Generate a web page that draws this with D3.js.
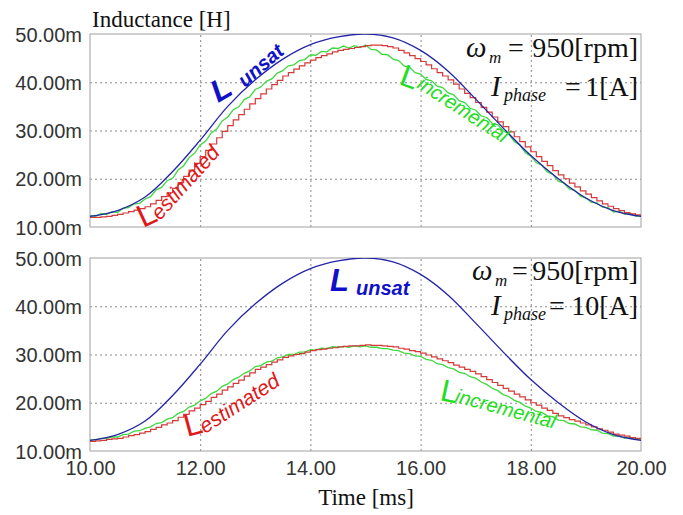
<!DOCTYPE html>
<html><head><meta charset="utf-8">
<script src="https://cdn.jsdelivr.net/npm/d3@7"></script>
<style>body{margin:0;background:#fff} svg{display:block}</style>
</head><body><div id="chart"></div>
<script>
// ---- data (inductance in mH, time in ms) ----
const timeStart = 10;
const fineStep = 0.1;     // sampling of estimated / incremental traces
const coarseStep = 0.5;   // sampling of unsaturated trace
const xTickValues = [10, 12, 14, 16, 18, 20];
const yTickValues = [10, 20, 30, 40, 50];

const lUnsat = [12.2,13.4,16.2,21.5,28.0,35.0,40.5,44.8,47.8,49.4,50.0,49.2,46.6,42.3,36.5,30.5,24.8,20.0,16.0,13.4,12.2];

const lEstTop = [12.0,12.0,12.1,12.2,12.4,12.6,
12.9,13.2,13.5,13.8,14.2, 14.8,15.5,16.3,17.1,18.0, 19.2,20.5,21.8,23.2,24.6,
25.9,27.2,28.5,29.8,31.0, 32.2,33.3,34.4,35.5,36.6, 37.6,38.6,39.5,40.4,41.3,
42.0,42.7,43.4,44.0,44.6, 45.1,45.5,45.9,46.3,46.6, 46.8,47.0,47.2,47.4,47.6,
47.7,47.7,47.6,47.4,47.1, 46.6,46.1,45.5,44.9,44.3, 43.6,42.8,42.0,41.3,40.5,
39.6,38.6,37.7,36.8,35.8, 34.8,33.8,32.8,31.8,30.8, 29.7,28.7,27.7,26.6,25.6,
24.6,23.6,22.7,21.7,20.8, 20.0,19.1,18.3,17.5,16.8, 16.1,15.4,14.8,14.3,13.8,
13.4,13.0,12.7,12.5,12.3];

const lIncTop = [12.4,12.2,12.8,12.6,13.2,13.0,
13.9,14.0,14.8,14.9,15.8, 16.3,17.7,18.2,19.6,20.1, 21.8,22.7,24.4,25.3,27.0,
27.8,29.5,30.3,32.0,32.8, 34.3,34.9,36.4,37.0,38.5, 39.0,40.2,40.7,41.9,42.4,
43.4,43.6,44.5,44.7,45.7, 45.6,46.4,46.3,47.1,47.0, 47.5,47.1,47.6,47.2,47.7,
46.8,46.7,45.8,45.7,44.8, 44.5,43.4,43.1,42.0,41.7, 40.6,40.3,39.2,38.9,37.8,
37.4,36.2,35.8,34.6,34.2, 33.0,32.7,31.5,31.2,30.0, 29.3,27.7,27.0,25.4,24.7,
23.3,22.8,21.4,20.9,19.5, 19.1,17.9,17.6,16.4,16.0, 15.1,15.0,14.1,14.0,13.1,
13.3,12.7,12.8,12.2,12.4];

const lEstBot = [12.0,12.1,12.2,12.4,12.5,12.6,
12.9,13.2,13.4,13.7,14.0, 14.5,14.9,15.4,15.8,16.3, 17.0,17.6,18.3,18.9,19.6,
20.3,21.1,21.8,22.6,23.3, 24.0,24.7,25.5,26.2,26.9, 27.4,27.9,28.4,28.9,29.4,
29.7,30.0,30.2,30.5,30.8, 31.0,31.1,31.3,31.4,31.6, 31.7,31.8,31.8,31.9,32.0,
31.9,31.9,31.8,31.7,31.6, 31.3,31.1,30.8,30.6,30.3, 29.9,29.5,29.1,28.7,28.3,
27.8,27.4,26.9,26.5,26.0, 25.4,24.8,24.2,23.6,23.0, 22.4,21.8,21.2,20.6,20.0,
19.5,18.9,18.4,17.8,17.3, 16.9,16.5,16.2,15.8,15.4, 15.0,14.6,14.3,13.9,13.5,
13.3,13.1,12.8,12.6,12.4];

const lIncBot = [12.3,12.3,12.6,12.6,12.9,12.9,
13.4,13.5,14.1,14.2,14.7, 15.0,15.7,15.9,16.6,16.9, 17.8,18.2,19.1,19.5,20.4,
20.9,21.9,22.4,23.4,23.9, 24.8,25.3,26.1,26.6,27.5, 27.7,28.4,28.6,29.3,29.5,
30.0,30.0,30.5,30.5,31.0, 30.9,31.3,31.2,31.6,31.5, 31.7,31.5,31.8,31.6,31.8,
31.5,31.5,31.2,31.2,30.9, 30.8,30.3,30.2,29.7,29.6, 29.0,28.8,28.1,27.9,27.3,
27.0,26.3,26.1,25.4,25.1, 24.3,23.8,23.0,22.5,21.7, 21.3,20.5,20.1,19.3,18.9,
18.2,18.0,17.3,17.1,16.4, 16.3,15.7,15.6,15.0,14.9, 14.4,14.3,13.7,13.6,13.1,
13.1,12.7,12.8,12.4,12.4];

const panelCurrents = ["1[A]", "10[A]"];

// ---- drawing ----
const W = 683, H = 515;
const SANS = "'Liberation Sans', Arial, sans-serif";
const SERIF = "'Liberation Serif', 'Times New Roman', serif";
const svg = d3.select("#chart").append("svg").attr("width", W).attr("height", H);
const x = d3.scaleLinear().domain([10, 20]).range([90, 641]);
const toPts = (arr, step) => arr.map((v, i) => [timeStart + i * step, v]);

const panels = [
  {top: 34, bottom: 227, est: lEstTop, inc: lIncTop},
  {top: 258, bottom: 451, est: lEstBot, inc: lIncBot}
];

panels.forEach((p, pi) => {
  const y = d3.scaleLinear().domain([10, 50]).range([p.bottom, p.top]);
  const g = svg.append("g");
  const clipId = "clip" + pi;
  svg.append("clipPath").attr("id", clipId).append("rect")
    .attr("x", x.range()[0]).attr("y", p.top).attr("width", x.range()[1] - x.range()[0]).attr("height", p.bottom - p.top);

  // grid
  const gy = g.append("g").attr("transform", `translate(${x.range()[0]},0)`)
    .call(d3.axisLeft(y).tickValues([20, 30, 40]).tickSize(-(x.range()[1] - x.range()[0])).tickFormat(""));
  const gx = g.append("g").attr("transform", `translate(0,${p.bottom})`)
    .call(d3.axisBottom(x).tickValues([12, 14, 16, 18]).tickSize(-(p.bottom - p.top)).tickFormat(""));
  [gy, gx].forEach(a => {
    a.select(".domain").remove();
    a.selectAll("line").attr("stroke", "#8a8a8a").attr("stroke-width", 1).attr("stroke-dasharray", "2,3");
  });

  // frame
  g.append("rect").attr("x", x.range()[0]).attr("y", p.top)
    .attr("width", x.range()[1] - x.range()[0]).attr("height", p.bottom - p.top)
    .attr("fill", "none").attr("stroke", "#a0a0a0").attr("stroke-width", 1);

  // y tick labels
  const ya = g.append("g").attr("transform", `translate(82,0)`)
    .call(d3.axisLeft(y).tickValues(yTickValues).tickSize(0).tickPadding(0).tickFormat(d => d3.format(".2f")(d) + "m"));
  ya.select(".domain").remove();
  ya.selectAll("text").attr("font-family", SANS).attr("font-size", 20).attr("fill", "#333").attr("dy", "0.36em");

  // curves
  const line = d3.line().x(d => x(d[0])).y(d => y(d[1]));
  const cg = g.append("g").attr("clip-path", `url(#${clipId})`);
  cg.append("path").attr("d", line.curve(d3.curveLinear)(toPts(p.inc, fineStep)))
    .attr("fill", "none").attr("stroke", "#3fd83f").attr("stroke-width", 1.3);
  cg.append("path").attr("d", line.curve(d3.curveStepAfter)(toPts(p.est, fineStep)))
    .attr("fill", "none").attr("stroke", "#d33a3a").attr("stroke-width", 1.2);
  cg.append("path").attr("d", line.curve(d3.curveCatmullRom)(toPts(lUnsat, coarseStep)))
    .attr("fill", "none").attr("stroke", "#2424a8").attr("stroke-width", 1.3);
});

// x axis labels (bottom panel)
const xa = svg.append("g").attr("transform", `translate(0,${panels[1].bottom})`)
  .call(d3.axisBottom(x).tickValues(xTickValues).tickSize(0).tickPadding(10).tickFormat(d3.format(".2f")));
xa.select(".domain").remove();
xa.selectAll("text").attr("font-family", SANS).attr("font-size", 20).attr("fill", "#333");

// axis titles
svg.append("text").attr("x", 92).attr("y", 27).attr("font-family", SERIF).attr("font-size", 23)
  .attr("fill", "#111").text("Inductance [H]");
svg.append("text").attr("x", 366).attr("y", 505).attr("text-anchor", "middle").attr("font-family", SERIF)
  .attr("font-size", 23).attr("fill", "#111").text("Time [ms]");

// annotations
function txt(xp, yp, s, o = {}) {
  return svg.append("text").attr("x", xp).attr("y", yp)
    .attr("font-family", o.family || SERIF).attr("font-size", o.size || 28)
    .attr("font-style", o.italic ? "italic" : "normal").attr("font-weight", o.bold ? "bold" : "normal")
    .attr("text-anchor", o.anchor || "start").attr("fill", o.fill || "#111")
    .attr("transform", o.rot ? `rotate(${o.rot},${xp},${yp})` : null).text(s);
}
const ann = [{b1: 57, b2: 96, wx: 466, ix: 491, eq1: 508, eq2: 565},
             {b1: 280, b2: 315, wx: 472, ix: 491, eq1: 512, eq2: 549}];
ann.forEach((a, i) => {
  txt(a.wx, a.b1, "ω", {italic: true, size: 29});
  txt(a.wx + 23, a.b1 + 6, "m", {italic: true, size: 17});
  txt(a.eq1, a.b1, "=", {size: 28});
  txt(638, a.b1, "950[rpm]", {anchor: "end", size: 28});
  txt(a.ix, a.b2, "I", {italic: true, size: 29});
  txt(a.ix + 13, a.b2 + 5, "phase", {italic: true, size: 18});
  txt(a.eq2, a.b2, "=", {size: 28});
  txt(638, a.b2, panelCurrents[i], {anchor: "end", size: 28});
});

// curve labels
const BLUE = "#1010c8", RED = "#e01818", GREEN = "#22dd22";
// top panel
txt(218, 103, "L", {family: SANS, bold: true, italic: true, size: 31, fill: BLUE, rot: -30});
txt(245, 88, "unsat", {family: SANS, bold: true, italic: true, size: 20, fill: BLUE, rot: -41});
txt(143, 228, "L", {family: SANS, size: 32, fill: RED, rot: -25});
txt(160, 221, "estimated", {family: SANS, italic: true, size: 21, fill: RED, rot: -48});
txt(398, 84, "L", {family: SANS, size: 31, fill: GREEN, rot: 20});
txt(416, 87, "incremental", {family: SANS, italic: true, size: 20, fill: GREEN, rot: 33});
// bottom panel
txt(330, 291, "L", {family: SANS, bold: true, italic: true, size: 31, fill: BLUE});
txt(356, 295, "unsat", {family: SANS, bold: true, italic: true, size: 20, fill: BLUE});
txt(187, 437, "L", {family: SANS, size: 32, fill: RED, rot: -15});
txt(205, 434, "estimated", {family: SANS, italic: true, size: 21, fill: RED, rot: -33});
txt(439, 400, "L", {family: SANS, size: 31, fill: GREEN, rot: 12});
txt(454, 402, "incremental", {family: SANS, italic: true, size: 20, fill: GREEN, rot: 15});
</script>
</body></html>
